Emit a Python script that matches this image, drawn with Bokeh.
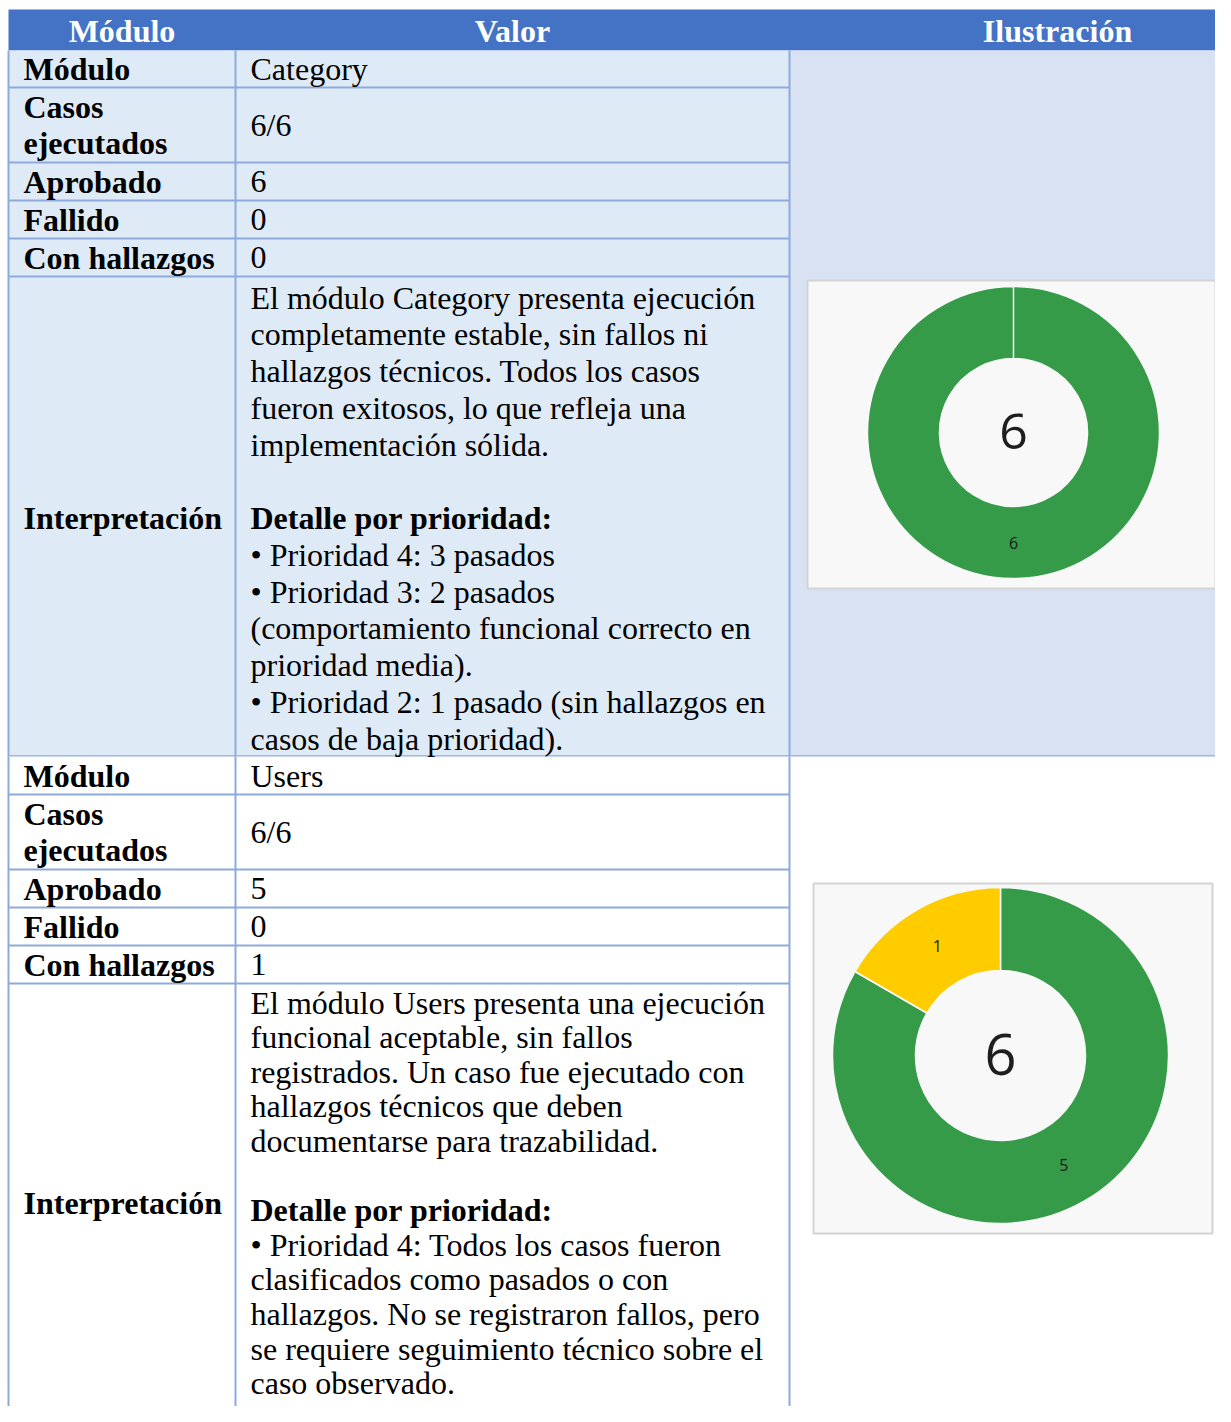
import math
from bokeh.plotting import figure
from bokeh.models import Range1d, ColumnDataSource
from bokeh.core.properties import value
from bokeh.embed import file_html
from bokeh.resources import INLINE

# ---------------- data ----------------
headers = ["Módulo", "Valor", "Ilustración"]
row_labels = ["Módulo", "Casos\nejecutados", "Aprobado", "Fallido", "Con hallazgos", "Interpretación"]
modules = ["Category", "Users"]
executed = ["6/6", "6/6"]
passed = [6, 5]
failed = [0, 0]
findings = [0, 1]
interp_category = [
    "El módulo Category presenta ejecución",
    "completamente estable, sin fallos ni",
    "hallazgos técnicos. Todos los casos",
    "fueron exitosos, lo que refleja una",
    "implementación sólida.",
    "",
    "Detalle por prioridad:",
    "• Prioridad 4: 3 pasados",
    "• Prioridad 3: 2 pasados",
    "(comportamiento funcional correcto en",
    "prioridad media).",
    "• Prioridad 2: 1 pasado (sin hallazgos en",
    "casos de baja prioridad).",
]
interp_users = [
    "El módulo Users presenta una ejecución",
    "funcional aceptable, sin fallos",
    "registrados. Un caso fue ejecutado con",
    "hallazgos técnicos que deben",
    "documentarse para trazabilidad.",
    "",
    "Detalle por prioridad:",
    "• Prioridad 4: Todos los casos fueron",
    "clasificados como pasados o con",
    "hallazgos. No se registraron fallos, pero",
    "se requiere seguimiento técnico sobre el",
    "caso observado.",
]
interpretations = [interp_category, interp_users]
bold_line = "Detalle por prioridad:"
slice_colors = ["#359B48", "#FFCC00", "#D9342B"]   # aprobado, con hallazgos, fallido

# ---------------- layout (pixel space of the reference) ----------------
W, H = 1215, 1406
X0, X1, X2, X3 = 8, 235, 789, 1231
HEAD = (9, 49)
sections = [
    dict(rows=[50, 87, 162, 200, 238, 276, 756], fill="#DEEAF6", fill3="#D9E2F3",
         para_y=297, para_step=36.75, interp_y=517,
         box=(807, 280, 1215, 588), c=(1013, 432), ro=146, ri=74, big=50),
    dict(rows=[756, 794, 869, 907, 945, 983, 1430], fill="#FFFFFF", fill3="#FFFFFF",
         para_y=1002, para_step=34.6, interp_y=1202,
         box=(813, 883, 1212, 1233), c=(1000, 1055), ro=168, ri=85, big=56),
]
LINE = 36.75
BORDER = "#8EAADB"
SERIF = "Liberation Serif"
SANS = "Open Sans"
FS = "32px"

p = figure(width=W, height=H, output_backend="svg", toolbar_location=None,
           x_range=Range1d(0, W), y_range=Range1d(-H, 0),
           min_border=0, outline_line_color=None)
p.axis.visible = False
p.grid.visible = False
p.background_fill_color = "white"
p.border_fill_color = "white"

def Y(py):
    return -py

# header
p.quad(left=[X0], right=[X3], top=[Y(HEAD[0])], bottom=[Y(HEAD[1] + 1)],
       fill_color="#4472C4", line_color=None)
p.text(x=[(X0 + X1) / 2, (X1 + X2) / 2, 1057], y=[Y(30)] * 3, text=headers,
       text_font=value(SERIF), text_font_style="bold", text_font_size=FS,
       text_color="white", text_align="center", text_baseline="middle")

lab_x, lab_y, lab_t = [], [], []
val_x, val_y, val_t = [], [], []
par_x, par_y, par_t = [], [], []
bold_x, bold_y, bold_t = [], [], []

for i, s in enumerate(sections):
    r = s["rows"]
    # backgrounds
    p.quad(left=[X0], right=[X2], top=[Y(r[0])], bottom=[Y(r[-1])],
           fill_color=s["fill"], line_color=None)
    p.quad(left=[X2], right=[X3], top=[Y(r[0])], bottom=[Y(r[-1])],
           fill_color=s["fill3"], line_color=None)
    # horizontal borders
    hx0, hx1, hy = [], [], []
    for yy in r[1:-1]:
        hx0.append(X0); hx1.append(X2); hy.append(Y(yy))
    p.segment(x0=hx0, x1=hx1, y0=hy, y1=hy, line_color=BORDER, line_width=2)
    if i == 0:
        p.segment(x0=[X0], x1=[X3], y0=[Y(r[-1])], y1=[Y(r[-1])], line_color=BORDER, line_width=2.5)
    # vertical borders
    for xx in (X0, X1, X2):
        p.segment(x0=[xx], x1=[xx], y0=[Y(r[0])], y1=[Y(r[-1])], line_color=BORDER, line_width=2)

    # row labels / values
    vals = [modules[i], executed[i], str(passed[i]), str(failed[i]), str(findings[i])]
    for k in range(5):
        cy = (r[k] + r[k + 1]) / 2
        lines = row_labels[k].split("\n")
        if len(lines) == 1:
            lab_x.append(23); lab_y.append(Y(cy)); lab_t.append(lines[0])
        else:
            for j, ln in enumerate(lines):
                lab_x.append(23); lab_y.append(Y(cy + (j - 0.5) * LINE)); lab_t.append(ln)
        val_x.append(250); val_y.append(Y(cy)); val_t.append(vals[k])
    lab_x.append(23); lab_y.append(Y(s["interp_y"])); lab_t.append(row_labels[5])

    for j, ln in enumerate(interpretations[i]):
        yy = Y(s["para_y"] + j * s["para_step"])
        if ln == bold_line:
            bold_x.append(250); bold_y.append(yy); bold_t.append(ln)
        elif ln:
            par_x.append(250); par_y.append(yy); par_t.append(ln)

    # chart box
    bx0, by0, bx1, by1 = s["box"]
    p.quad(left=[bx0], right=[bx1], top=[Y(by0)], bottom=[Y(by1)],
           fill_color="#F8F8F8", line_color="#D4D4D4", line_width=2)

    # donut
    vals_d = [passed[i], findings[i], failed[i]]
    total = sum(vals_d)
    cx, cyy = s["c"]
    starts, ends, cols, lx, ly, lt = [], [], [], [], [], []
    cum = 0
    for v, col in zip(vals_d, slice_colors):
        if v <= 0:
            continue
        a0 = math.pi / 2 - 2 * math.pi * cum / total
        a1 = math.pi / 2 - 2 * math.pi * (cum + v) / total
        if abs(a0 - a1) >= 2 * math.pi - 1e-9:
            a1 += 1e-4
        mid = (a0 + a1) / 2
        rm = (s["ro"] + s["ri"]) / 2
        starts.append(a0); ends.append(a1); cols.append(col)
        lx.append(cx + rm * math.cos(mid)); ly.append(Y(cyy) + rm * math.sin(mid)); lt.append(str(v))
        cum += v
    src = ColumnDataSource(dict(x=[cx] * len(starts), y=[Y(cyy)] * len(starts),
                                start=starts, end=ends, color=cols))
    p.annular_wedge(x="x", y="y", inner_radius=s["ri"], outer_radius=s["ro"],
                    start_angle="start", end_angle="end", direction="clock",
                    fill_color="color", line_color="#F8F8F8", line_width=1.5, source=src)
    p.text(x=lx, y=ly, text=lt, text_font=value(SANS), text_font_size="16px",
           text_color="#1A1A1A", text_align="center", text_baseline="middle")
    p.text(x=[cx], y=[Y(cyy - 1)], text=[str(total)], text_font=value(SANS),
           text_font_size=f"{s['big']}px", text_color="#1E1E1E",
           text_align="center", text_baseline="middle")

p.text(x=lab_x, y=lab_y, text=lab_t, text_font=value(SERIF), text_font_style="bold",
       text_font_size=FS, text_color="black", text_align="left", text_baseline="middle")
p.text(x=val_x, y=val_y, text=val_t, text_font=value(SERIF),
       text_font_size=FS, text_color="black", text_align="left", text_baseline="middle")
p.text(x=par_x, y=par_y, text=par_t, text_font=value(SERIF),
       text_font_size=FS, text_color="black", text_align="left", text_baseline="middle")
p.text(x=bold_x, y=bold_y, text=bold_t, text_font=value(SERIF), text_font_style="bold",
       text_font_size=FS, text_color="black", text_align="left", text_baseline="middle")

open("out.html", "w").write(file_html(p, INLINE))
